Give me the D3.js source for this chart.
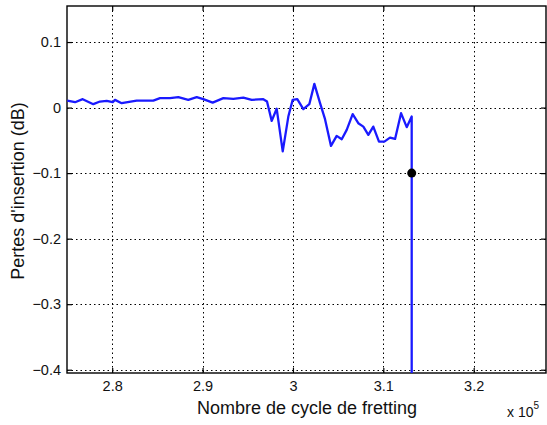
<!DOCTYPE html>
<html><head><meta charset="utf-8">
<script src="https://cdn.jsdelivr.net/npm/d3@7"></script>
<style>body{margin:0;background:#fff}svg{display:block}text{font-family:"Liberation Sans",Arial,sans-serif}</style>
</head><body><div id="chart"></div>
<script>
const cycles = [2.7503,2.7589,2.7674,2.7791,2.7865,2.7939,2.8006,2.8031,2.8105,2.8271,2.8455,2.8529,2.8640,2.8732,2.8842,2.8935,2.9008,2.9112,2.9230,2.9340,2.9451,2.9544,2.9672,2.9713,2.9765,2.9820,2.9887,2.9949,2.9997,3.0048,3.0115,3.0181,3.0237,3.0300,3.0355,3.0421,3.0484,3.0540,3.0595,3.0661,3.0723,3.0779,3.0834,3.0889,3.0952,3.1011,3.1074,3.1130,3.1196,3.1259,3.1314,3.1314];
const losses = [0.0107,0.0082,0.0128,0.0052,0.0092,0.0102,0.0082,0.0118,0.0067,0.0107,0.0107,0.0144,0.0144,0.0159,0.0118,0.0159,0.0128,0.0076,0.0144,0.0133,0.0153,0.0118,0.0128,0.0092,-0.0203,-0.0017,-0.0669,-0.0137,0.0118,0.0128,-0.0024,0.0052,0.0362,0.0067,-0.0177,-0.0585,-0.0432,-0.0482,-0.0340,-0.0101,-0.0238,-0.0290,-0.0417,-0.0290,-0.0519,-0.0519,-0.0458,-0.0478,-0.0085,-0.0299,-0.0137,-0.6];
const markerPoint = [3.1314, -0.1];
const xTicks = [2.8,2.9,3.0,3.1,3.2];
const yTicks = [0.1,0,-0.1,-0.2,-0.3,-0.4];
const xDomain = [2.75, 3.28];
const yDomain = [-0.405, 0.155];

const W = 547, H = 425;
const m = {left:67, right:1, top:6, bottom:52};
const svg = d3.select("#chart").append("svg").attr("width",W).attr("height",H);
const x = d3.scaleLinear().domain(xDomain).range([m.left, W-m.right]);
const y = d3.scaleLinear().domain(yDomain).range([H-m.bottom, m.top]);
const x0=m.left, x1=W-m.right, y0=m.top, y1=H-m.bottom;

svg.append("defs").append("clipPath").attr("id","clip")
  .append("rect").attr("x",x0).attr("y",y0).attr("width",x1-x0).attr("height",y1-y0);

const grid = svg.append("g").attr("stroke","#000").attr("stroke-width",1).attr("stroke-dasharray","1.5,3");
grid.selectAll(".gx").data(xTicks).join("line").attr("x1",d=>Math.round(x(d))+0.5).attr("x2",d=>Math.round(x(d))+0.5).attr("y1",y0).attr("y2",y1);
grid.selectAll(".gy").data(yTicks).join("line").attr("y1",d=>Math.round(y(d))+0.5).attr("y2",d=>Math.round(y(d))+0.5).attr("x1",x0).attr("x2",x1);

const fmtX = d=>String(+d.toFixed(1));
const fmtY = d=>(d<0?"\u2212":"")+String(+Math.abs(d).toFixed(1));
const axB = svg.append("g").attr("transform",`translate(0,${y1})`).call(d3.axisBottom(x).tickValues(xTicks).tickSize(-5).tickPadding(8).tickFormat(fmtX));
const axT = svg.append("g").attr("transform",`translate(0,${y0})`).call(d3.axisTop(x).tickValues(xTicks).tickSize(-5).tickFormat(""));
const axL = svg.append("g").attr("transform",`translate(${x0},0)`).call(d3.axisLeft(y).tickValues(yTicks).tickSize(-5).tickPadding(6).tickFormat(fmtY));
const axR = svg.append("g").attr("transform",`translate(${x1},0)`).call(d3.axisRight(y).tickValues(yTicks).tickSize(-5).tickFormat(""));
[axB,axT,axL,axR].forEach(a=>{a.select(".domain").remove();a.selectAll("line").attr("stroke","#000").attr("stroke-width",1.2);a.selectAll("text").attr("font-size",14.5).attr("fill","#111");});

svg.append("rect").attr("x",x0).attr("y",y0).attr("width",x1-x0).attr("height",y1-y0).attr("fill","none").attr("stroke","#000").attr("stroke-width",1.4);

const line = d3.line().x((d,i)=>x(cycles[i])).y(d=>y(d));
svg.append("path").datum(losses).attr("clip-path","url(#clip)").attr("d",line).attr("fill","none").attr("stroke","#1a1aff").attr("stroke-width",2.3).attr("stroke-linejoin","round");

svg.append("circle").attr("cx",x(markerPoint[0])).attr("cy",y(markerPoint[1])).attr("r",4.5).attr("fill","#000");

svg.append("text").attr("x",307).attr("y",414).attr("text-anchor","middle").attr("font-size",18).attr("fill","#111").text("Nombre de cycle de fretting");
svg.append("text").attr("transform",`translate(24,191) rotate(-90)`).attr("text-anchor","middle").attr("font-size",18).attr("fill","#111").text("Pertes d'insertion (dB)");
const ex = svg.append("text").attr("x",507).attr("y",417).attr("font-size",14).attr("fill","#111");
ex.append("tspan").text("x 10");
ex.append("tspan").attr("dy",-8).attr("font-size",10).text("5");
</script></body></html>
